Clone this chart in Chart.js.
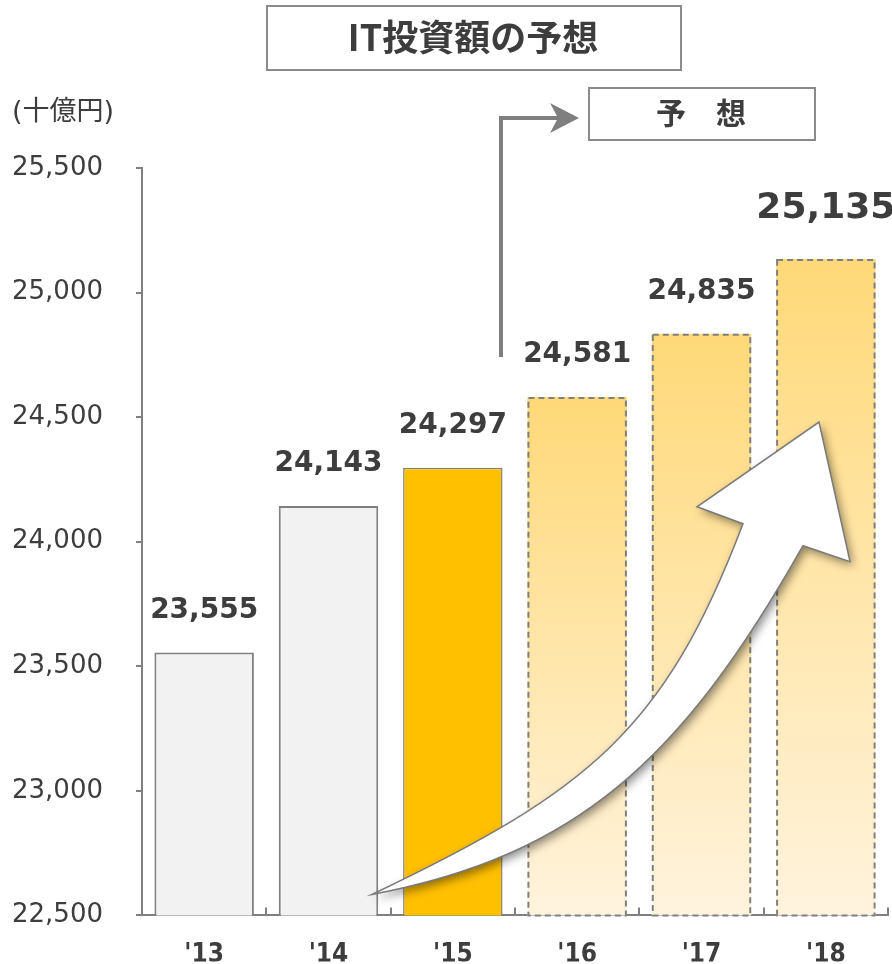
<!DOCTYPE html>
<html>
<head>
<meta charset="utf-8">
<script src="https://cdn.jsdelivr.net/npm/chart.js@4"></script>
<style>
  html, body { margin: 0; padding: 0; background: #ffffff; }
  #wrap { position: relative; width: 892px; height: 964px; }
</style>
</head>
<body>
<div id="wrap"><canvas id="c" width="892" height="964"></canvas></div>
<script>
// ---- data ----
const categories = ["'13", "'14", "'15", "'16", "'17", "'18"];
const values = [23555, 24143, 24297, 24581, 24835, 25135];
const barKinds = ['actual', 'actual', 'current', 'forecast', 'forecast', 'forecast'];
const yTickValues = [22500, 23000, 23500, 24000, 24500, 25000, 25500];
const titleText = 'IT投資額の予想';
const forecastText = '予　想';
const unitText = '(十億円)';

const TEXT = '#3d3d3d';
const GRAY = '#808080';
const FONT = "'DejaVu Sans', 'Noto Sans CJK JP', sans-serif";
const CJK = "'Noto Sans CJK JP', 'DejaVu Sans', sans-serif";

function fmt(v) { return v.toLocaleString('en-US'); }

function barFill(ctx) {
  const i = ctx.dataIndex;
  const kind = barKinds[i];
  if (kind === 'actual') return '#f2f2f2';
  if (kind === 'current') return '#ffc000';
  const chart = ctx.chart;
  const y = chart.scales && chart.scales.y;
  if (!chart.chartArea || !y) return '#ffe6a6';
  const top = y.getPixelForValue(values[i]);
  const bottom = y.getPixelForValue(y.min);
  const g = chart.ctx.createLinearGradient(0, top, 0, bottom);
  g.addColorStop(0, '#ffd978');
  g.addColorStop(1, '#fff3dd');
  return g;
}

const decorPlugin = {
  id: 'decor',
  afterDatasetsDraw(chart) {
    const ctx = chart.ctx;
    const meta = chart.getDatasetMeta(0);
    const xs = chart.scales.x;
    const area = chart.chartArea;

    // x axis tick marks at category boundaries (pointing up)
    ctx.save();
    ctx.strokeStyle = GRAY;
    ctx.lineWidth = 2;
    const step = (xs.right - xs.left) / categories.length;
    for (let k = 0; k <= categories.length; k++) {
      const px = Math.round(xs.left + k * step);
      ctx.beginPath();
      ctx.moveTo(px, area.bottom);
      ctx.lineTo(px, area.bottom - 8);
      ctx.stroke();
    }
    ctx.restore();

    // dashed borders for forecast bars
    ctx.save();
    ctx.strokeStyle = GRAY;
    ctx.lineWidth = 2;
    ctx.setLineDash([6, 4]);
    meta.data.forEach((bar, i) => {
      if (barKinds[i] !== 'forecast') return;
      const p = bar.getProps(['x', 'y', 'base', 'width'], true);
      const base = Math.min(p.base, area.bottom);
      ctx.strokeRect(p.x - p.width / 2 + 1, p.y + 1, p.width - 2, base - p.y - 1);
    });
    ctx.restore();

    // big curved arrow (decoration, placed by chart-area fractions)
    const fx = v => area.left + (v - 142) / 746 * (area.right - area.left);
    const fy = v => area.top + (v - 168) / 750 * (area.bottom - area.top);
    const P = (a, b) => [fx(a), fy(b)];
    function arrowPath() {
      const tail = P(372, 897);
      const l1 = P(575, 858), l2 = P(681, 764), hb = P(803, 547);
      const hr = P(850, 563), tip = P(819, 423), hl = P(697, 508);
      const hi = P(743, 525), u1 = P(665, 731), u2 = P(590, 793);
      ctx.beginPath();
      ctx.moveTo(tail[0], tail[1]);
      ctx.bezierCurveTo(l1[0], l1[1], l2[0], l2[1], hb[0], hb[1]);
      ctx.lineTo(hr[0], hr[1]);
      ctx.lineTo(tip[0], tip[1]);
      ctx.lineTo(hl[0], hl[1]);
      ctx.lineTo(hi[0], hi[1]);
      ctx.bezierCurveTo(u1[0], u1[1], u2[0], u2[1], tail[0], tail[1]);
      ctx.closePath();
    }
    ctx.save();
    ctx.shadowColor = 'rgba(0,0,0,0.45)';
    ctx.shadowBlur = 10;
    ctx.shadowOffsetX = 3;
    ctx.shadowOffsetY = 4;
    arrowPath();
    ctx.fillStyle = '#ffffff';
    ctx.fill();
    ctx.restore();
    ctx.save();
    arrowPath();
    ctx.lineWidth = 1.5;
    ctx.strokeStyle = '#7a7a7a';
    ctx.lineJoin = 'miter';
    ctx.stroke();
    ctx.restore();

    // value labels
    ctx.save();
    ctx.fillStyle = TEXT;
    ctx.textAlign = 'center';
    ctx.textBaseline = 'middle';
    meta.data.forEach((bar, i) => {
      const p = bar.getProps(['x', 'y'], true);
      const last = i === values.length - 1;
      ctx.font = 'bold ' + (last ? 36 : 28) + 'px ' + FONT;
      ctx.fillText(fmt(values[i]), p.x, p.y - (last ? 50 : 42));
    });
    ctx.restore();
  },
  afterDraw(chart) {
    const ctx = chart.ctx;
    ctx.save();
    // title box
    ctx.strokeStyle = '#8a8a8a';
    ctx.lineWidth = 2;
    ctx.strokeRect(267, 6, 414, 64);
    ctx.fillStyle = TEXT;
    ctx.textAlign = 'center';
    ctx.textBaseline = 'middle';
    ctx.font = 'bold 36px ' + CJK;
    ctx.fillText(titleText, 473, 37);

    // forecast box
    ctx.strokeRect(589, 88, 226, 52);
    ctx.font = 'bold 30px ' + CJK;
    ctx.fillText(forecastText, 701, 113);

    // unit label
    ctx.textAlign = 'left';
    ctx.font = '27px ' + FONT;
    ctx.fillText(unitText, 12, 113);

    // elbow arrow
    ctx.strokeStyle = '#7f7f7f';
    ctx.lineWidth = 4;
    ctx.beginPath();
    ctx.moveTo(501, 357);
    ctx.lineTo(501, 118);
    ctx.lineTo(562, 118);
    ctx.stroke();
    ctx.fillStyle = '#7f7f7f';
    ctx.beginPath();
    ctx.moveTo(579, 118);
    ctx.lineTo(550, 103);
    ctx.lineTo(558, 118);
    ctx.lineTo(550, 133);
    ctx.closePath();
    ctx.fill();
    ctx.restore();
  }
};

new Chart(document.getElementById('c'), {
  type: 'bar',
  data: {
    labels: categories,
    datasets: [{
      data: values,
      backgroundColor: barFill,
      borderColor: GRAY,
      borderWidth: (ctx) => barKinds[ctx.dataIndex] === 'forecast' ? 0 : (barKinds[ctx.dataIndex] === 'current' ? 1.5 : 2),
      borderSkipped: 'bottom',
      barPercentage: 0.8,
      categoryPercentage: 1.0
    }]
  },
  options: {
    responsive: false,
    animation: false,
    devicePixelRatio: 1,
    layout: { padding: { top: 168, right: 4, left: 0, bottom: 0 } },
    plugins: { legend: { display: false }, tooltip: { enabled: false }, title: { display: false } },
    scales: {
      x: {
        offset: true,
        grid: { display: false, drawTicks: false },
        border: { display: true, color: GRAY, width: 2 },
        ticks: {
          color: TEXT,
          padding: 24,
          font: { family: "'DejaVu Sans Condensed', 'DejaVu Sans', sans-serif", size: 26, weight: 'bold' }
        },
        afterFit(scale) { scale.height = 46; }
      },
      y: {
        min: 22500,
        max: 25500,
        afterBuildTicks(scale) { scale.ticks = yTickValues.map(v => ({ value: v })); },
        grid: { drawOnChartArea: false, drawTicks: true, tickLength: 6, color: GRAY, lineWidth: 2 },
        border: { display: true, color: GRAY, width: 2 },
        ticks: {
          color: TEXT,
          padding: 33,
          font: { family: FONT, size: 26 },
          callback: (v) => fmt(v)
        },
        afterFit(scale) { scale.width = 142; }
      }
    }
  },
  plugins: [decorPlugin]
});
</script>
</body>
</html>
